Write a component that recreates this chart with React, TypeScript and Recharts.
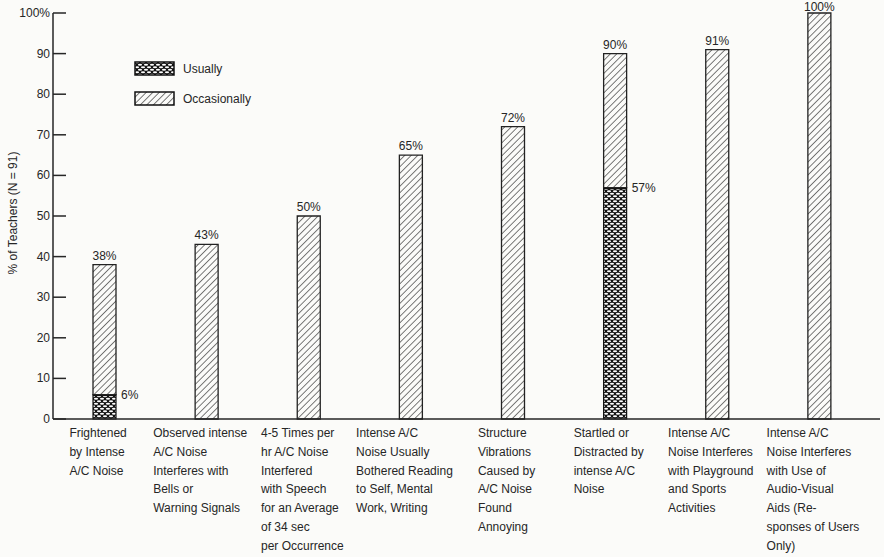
import React from "react";
import { BarChart, Bar, XAxis, YAxis, LabelList } from "recharts";

// category labels, one array of lines per bar
const categoryLines: string[][] = [
  ["Frightened", "by Intense", "A/C Noise"],
  ["Observed intense", "A/C Noise", "Interferes with", "Bells or", "Warning Signals"],
  ["4-5 Times per", "hr A/C Noise", "Interfered", "with Speech", "for an Average", "of 34 sec", "per Occurrence"],
  ["Intense A/C", "Noise Usually", "Bothered Reading", "to Self, Mental", "Work, Writing"],
  ["Structure", "Vibrations", "Caused by", "A/C Noise", "Found", "Annoying"],
  ["Startled or", "Distracted by", "intense A/C", "Noise"],
  ["Intense A/C", "Noise Interferes", "with Playground", "and Sports", "Activities"],
  ["Intense A/C", "Noise Interferes", "with Use of", "Audio-Visual", "Aids (Re-", "sponses of Users", "Only)"],
];
const totalPct = [38, 43, 50, 65, 72, 90, 91, 100];
const usuallyPct = [6, 0, 0, 0, 0, 57, 0, 0];
const yTicks = [0, 10, 20, 30, 40, 50, 60, 70, 80, 90, 100];

const data = categoryLines.map((lines, i) => ({
  name: lines.join(" "),
  usually: usuallyPct[i],
  occasionally: totalPct[i] - usuallyPct[i],
  total: totalPct[i],
}));

const FONT = "'Liberation Sans', Arial, sans-serif";
const INK = "#262626";

let ctx: CanvasRenderingContext2D | null = null;
const measure = (s: string) => {
  if (!ctx) ctx = document.createElement("canvas").getContext("2d");
  if (!ctx) return s.length * 6;
  ctx.font = `12px ${FONT}`;
  return ctx.measureText(s).width;
};

const XTick = (props: any) => {
  const { x, y, payload } = props;
  const lines = categoryLines[payload.index] || [];
  const w = Math.max(...lines.map(measure));
  const left = x - w / 2 - 6;
  return (
    <text x={left} y={y + 18} fontSize={12} fill={INK} fontFamily={FONT}>
      {lines.map((l, i) => (
        <tspan key={i} x={left} dy={i === 0 ? 0 : 18.8}>
          {l}
        </tspan>
      ))}
    </text>
  );
};

const YTick = (props: any) => {
  const { x, y, payload } = props;
  return (
    <g>
      <line x1={x} x2={x + 13} y1={y} y2={y} stroke={INK} strokeWidth={1.5} />
      <text x={x - 3} y={y} dy={4} textAnchor="end" fontSize={12} fill={INK} fontFamily={FONT}>
        {payload.value === 100 ? "100%" : payload.value}
      </text>
    </g>
  );
};

const UsuallyShape = (props: any) => {
  const { x, y, width, height } = props;
  if (!height || height <= 0) return null;
  return (
    <g>
      <rect x={x} y={y} width={width} height={height} fill="url(#ovalHatch)" stroke="#111" strokeWidth={1.2} />
      <line x1={x} x2={x + width} y1={y} y2={y} stroke="#111" strokeWidth={3} />
    </g>
  );
};

const UsuallyLabel = (props: any) => {
  const { x, y, width, value } = props;
  if (!value) return null;
  return (
    <text x={x + width + 5} y={y + 4} fontSize={12} fill={INK} fontFamily={FONT}>
      {value}%
    </text>
  );
};

// total label above each bar, kept inside the picture at the top
const TotalLabel = (props: any) => {
  const { x, y, width, value } = props;
  return (
    <text
      x={x + width / 2}
      y={Math.max(y - 5, 11)}
      textAnchor="middle"
      fontSize={12}
      fill={INK}
      fontFamily={FONT}
    >
      {value}%
    </text>
  );
};

const legendItems = [
  { label: "Usually", fill: "url(#ovalHatch)" },
  { label: "Occasionally", fill: "url(#diagHatch)" },
];

const LegendBox = () => (
  <div
    style={{
      position: "absolute",
      left: 134,
      top: 61,
      fontFamily: FONT,
      fontSize: 12,
      color: INK,
      zIndex: 2,
    }}
  >
    {legendItems.map((it) => (
      <div key={it.label} style={{ display: "flex", alignItems: "center", height: 15, marginBottom: 15 }}>
        <svg width={42} height={15} style={{ display: "block" }}>
          <rect x={1} y={1} width={39} height={13} fill={it.fill} stroke="#111" strokeWidth={1.5} />
        </svg>
        <span style={{ marginLeft: 7 }}>{it.label}</span>
      </div>
    ))}
  </div>
);

export default function App() {
  return (
    <div style={{ position: "absolute", left: 0, top: 0, width: 884, height: 557, background: "#fbfbf9" }}>
      <svg width={0} height={0} style={{ position: "absolute" }}>
        <defs>
          <pattern id="diagHatch" patternUnits="userSpaceOnUse" width={4.6} height={4.6} patternTransform="rotate(45)">
            <rect width={4.6} height={4.6} fill="#fbfbf9" />
            <line x1={0} y1={0} x2={0} y2={4.6} stroke="#333" strokeWidth={1.3} />
          </pattern>
          <pattern id="ovalHatch" patternUnits="userSpaceOnUse" width={6} height={5}>
            <rect width={6} height={5} fill="#111" />
            <ellipse cx={3} cy={1.25} rx={2.1} ry={1.05} fill="#fff" />
            <ellipse cx={0} cy={3.75} rx={2.1} ry={1.05} fill="#fff" />
            <ellipse cx={6} cy={3.75} rx={2.1} ry={1.05} fill="#fff" />
          </pattern>
        </defs>
      </svg>
      <LegendBox />
      <BarChart
        width={884}
        height={557}
        data={data}
        margin={{ top: 13, right: 4, left: 0, bottom: 0 }}
        barSize={23}
      >
        <XAxis
          dataKey="name"
          height={138}
          interval={0}
          tickLine={false}
          tickSize={0}
          tickMargin={0}
          tick={<XTick />}
          padding={{ left: 0, right: 10 }}
          axisLine={{ stroke: INK, strokeWidth: 1.5 }}
        />
        <YAxis
          width={53}
          domain={[0, 100]}
          ticks={yTicks}
          interval={0}
          tickLine={false}
          tickSize={0}
          tickMargin={0}
          tick={<YTick />}
          axisLine={{ stroke: INK, strokeWidth: 1.5 }}
          label={{
            content: () => (
              <text
                transform="translate(17,213) rotate(-90)"
                textAnchor="middle"
                fontSize={12}
                fill={INK}
                fontFamily={FONT}
              >
                % of Teachers (N = 91)
              </text>
            ),
          }}
        />
        <Bar dataKey="usually" stackId="a" shape={<UsuallyShape />} isAnimationActive={false}>
          <LabelList dataKey="usually" content={<UsuallyLabel />} />
        </Bar>
        <Bar
          dataKey="occasionally"
          stackId="a"
          fill="url(#diagHatch)"
          stroke="#222"
          strokeWidth={1.3}
          isAnimationActive={false}
        >
          <LabelList dataKey="total" content={<TotalLabel />} />
        </Bar>
      </BarChart>
    </div>
  );
}
